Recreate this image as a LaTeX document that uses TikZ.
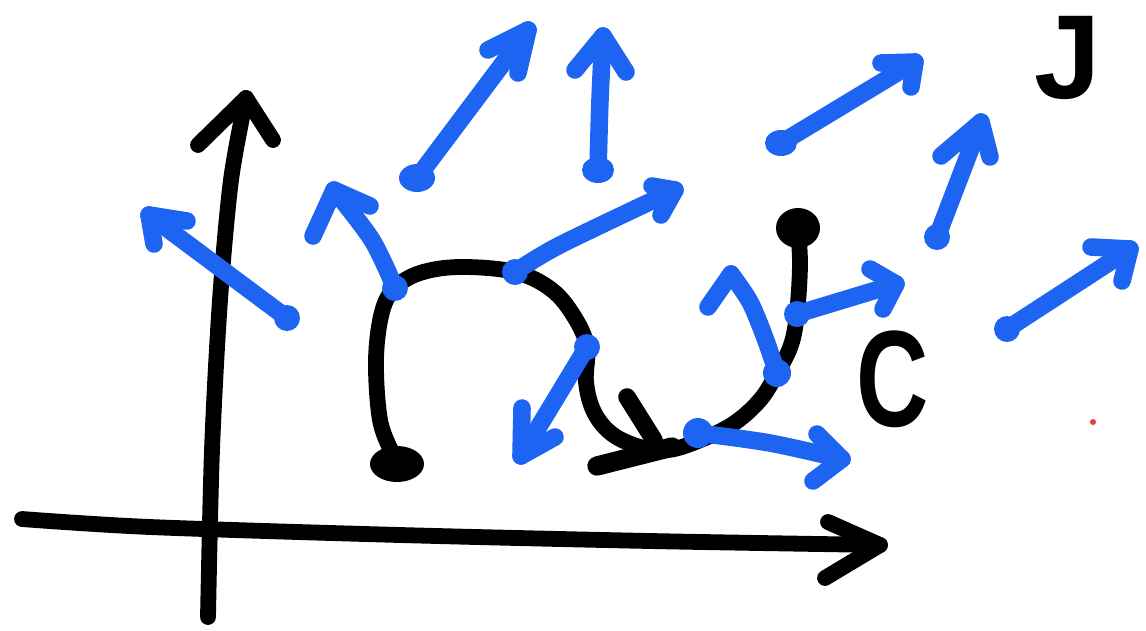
\documentclass[tikz,border=0pt]{standalone}
\usepackage{fontspec}
\setmainfont{Liberation Sans}
\definecolor{penblue}{RGB}{30,100,242}
\definecolor{penred}{RGB}{240,60,50}
\begin{document}
\begin{tikzpicture}[x=0.02cm,y=-0.02cm,
  bk/.style={draw=black,line width=9pt,line cap=round,line join=round},
  bl/.style={draw=penblue,line width=10pt,line cap=round,line join=round},
  tail/.style={fill=penblue},
  lbl/.style={inner sep=0pt,anchor=base,font=\fontsize{60}{64}\selectfont\bfseries}]
\useasboundingbox (0,0) rectangle (1146,630);
% axes
\draw[bk] plot[smooth] coordinates {(208,617) (212,450) (220,300) (231,180) (246,98)};
\draw[bk] (198,145) -- (246,98) -- (273,140);
\draw[bk] plot[smooth] coordinates {(22,519) (150,527) (400,535) (650,541) (880,545)};
\draw[bk] (828,522) -- (880,545) -- (825,578);
% curve C
\draw[bk] plot[smooth,tension=0.6] coordinates {(392,452) (380,420) (376,360) (382,312) (395,288) (420,273) (460,267) (515,272) (552,290) (575,318) (587,347) (586,382) (594,412) (612,434) (640,447) (668,450) (698,441) (733,424) (760,400) (777,373) (791,345) (797,313) (800,265) (798,230)};
\fill (397,464) ellipse [x radius=27, y radius=18];
\fill (798,228) ellipse [x radius=22, y radius=20];
\draw[bk,line width=10pt] (627,397) -- (654,440);
\draw[bk,line width=11pt] (597,466) -- (672,447);
% labels
\node[lbl] (labC) at (893,426) {\scalebox{0.95}[1.3]{C}};
\node[lbl,font=\fontsize{68}{72}\selectfont\bfseries] (labJ) at (1068,98) {J};
\fill[penred] (1093,422) circle [radius=3];
% blue field arrows
% 1
\draw[bl] (287,318) -- (149,215);
\draw[bl] (187,221) -- (149,215) -- (154,244);
\fill[tail] (287,318) circle [radius=13];
% 2
\draw[bl] plot[smooth] coordinates {(395,288) (372,240) (334,190)};
\draw[bl] (370,206) -- (334,190) -- (313,236);
\fill[tail] (395,288) circle [radius=13];
% 3
\draw[bl] (417,178) -- (528,30);
\draw[bl] (488,50) -- (528,30) -- (518,73);
\fill[tail] (417,178) ellipse [x radius=18, y radius=14];
% 4
\draw[bl] plot[smooth] coordinates {(598,170) (600,100) (603,36)};
\draw[bl] (575,70) -- (603,36) -- (626,72);
\fill[tail] (598,170) ellipse [x radius=16, y radius=13];
% 5
\draw[bl] plot[smooth] coordinates {(515,272) (560,245) (675,190)};
\draw[bl] (652,186) -- (675,190) -- (661,215);
\fill[tail] (515,272) circle [radius=13];
% 6
\draw[bl] (587,347) -- (521,456);
\draw[bl] (522,408) -- (521,456) -- (555,437);
\fill[tail] (587,347) circle [radius=13];
% 7
\draw[bl] (781,143) -- (915,62);
\draw[bl] (881,63) -- (915,62) -- (911,87);
\fill[tail] (781,143) ellipse [x radius=16, y radius=13];
% 8
\draw[bl] (937,237) -- (981,122);
\draw[bl] (941,156) -- (981,122) -- (990,157);
\fill[tail] (937,237) circle [radius=13];
% 9
\draw[bl] (1007,329) -- (1130,249);
\draw[bl] (1091,247) -- (1130,249) -- (1122,281);
\fill[tail] (1007,329) circle [radius=13];
% 10
\draw[bl] (797,314) -- (896,284);
\draw[bl] (870,269) -- (896,284) -- (883,309);
\fill[tail] (797,314) circle [radius=13];
% 11
\draw[bl] plot[smooth] coordinates {(777,373) (765,338) (750,302) (731,274)};
\draw[bl] (731,274) -- (708,307);
\fill[tail] (777,373) circle [radius=14];
% 12
\draw[bl] plot[smooth] coordinates {(698,433) (770,443) (842,459)};
\draw[bl] (817,434) -- (842,459) -- (813,481);
\fill[tail] (698,433) circle [radius=15];
\end{tikzpicture}
\end{document}
